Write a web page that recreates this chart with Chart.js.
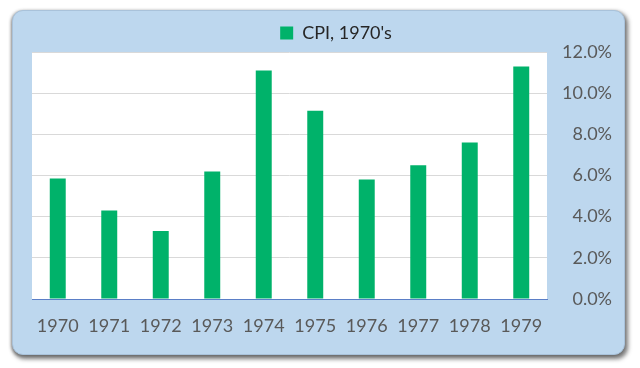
<!DOCTYPE html>
<html><head><meta charset="utf-8">
<script src="https://cdn.jsdelivr.net/npm/chart.js@4"></script>
<style>
html,body{margin:0;padding:0;background:#fff;width:640px;height:368px;overflow:hidden}
#frame{position:absolute;left:12px;top:10px;width:613px;height:345px;box-sizing:border-box;border-radius:11px;background:#BDD7EE;border:1px solid #a9c2da;box-shadow:2px 3px 4px 1px rgba(80,80,80,0.75), -1px 1px 3px rgba(80,80,80,0.5)}
#wrap{position:absolute;left:0;top:0;width:640px;height:368px}
</style></head>
<body>
<div id="frame"></div>
<div id="wrap"><canvas id="c" width="640" height="368"></canvas></div>
<script>
const categories = ['1970','1971','1972','1973','1974','1975','1976','1977','1978','1979'];
const cpiValues = [5.85, 4.3, 3.3, 6.2, 11.1, 9.15, 5.8, 6.5, 7.6, 11.3];
const seriesLabel = "CPI, 1970's";
const yTickValues = [0, 2, 4, 6, 8, 10, 12];

const chartAreaBg = {
  id: 'chartAreaBg',
  beforeDraw(chart) {
    const {ctx, chartArea: a} = chart;
    ctx.save();
    ctx.fillStyle = '#ffffff';
    ctx.fillRect(a.left, a.top, a.right - a.left, a.bottom - a.top);
    ctx.restore();
  },
  afterLayout(chart) {
    if (chart.legend) { chart.legend.left += 14; chart.legend.right += 14; }
  }
};

new Chart(document.getElementById('c'), {
  type: 'bar',
  data: {
    labels: categories,
    datasets: [{
      label: seriesLabel,
      data: cpiValues,
      backgroundColor: '#00B26A',
      borderWidth: 0,
      barPercentage: 0.31,
      categoryPercentage: 1.0
    }]
  },
  options: {
    responsive: false,
    animation: false,
    layout: { padding: { left: 32, right: 28, top: 14, bottom: 29 } },
    plugins: {
      legend: {
        position: 'top',
        labels: {
          boxWidth: 13, boxHeight: 13, padding: 10,
          color: '#262626',
          font: { family: 'Lato, "Open Sans", sans-serif', size: 18 }
        }
      },
      tooltip: { enabled: false }
    },
    scales: {
      x: {
        grid: { display: false, drawTicks: false },
        border: { display: true, color: '#5B7FC7', width: 1 },
        ticks: { color: '#595959', padding: 16, maxRotation: 0,
          font: { family: 'Lato, "Open Sans", sans-serif', size: 18 } },
        afterFit(s) { s.height = 40; }
      },
      y: {
        position: 'right',
        min: 0, max: 12,
        afterBuildTicks(s) { s.ticks = yTickValues.map(v => ({ value: v })); },
        grid: { color: '#d9d9d9', drawTicks: false },
        border: { display: false },
        ticks: {
          color: '#595959', crossAlign: 'far', padding: 8,
          font: { family: 'Lato, "Open Sans", sans-serif', size: 18 },
          callback: v => v.toFixed(1) + '%'
        },
        afterFit(s) { s.width = 65; }
      }
    }
  },
  plugins: [chartAreaBg]
});
</script>
</body></html>
